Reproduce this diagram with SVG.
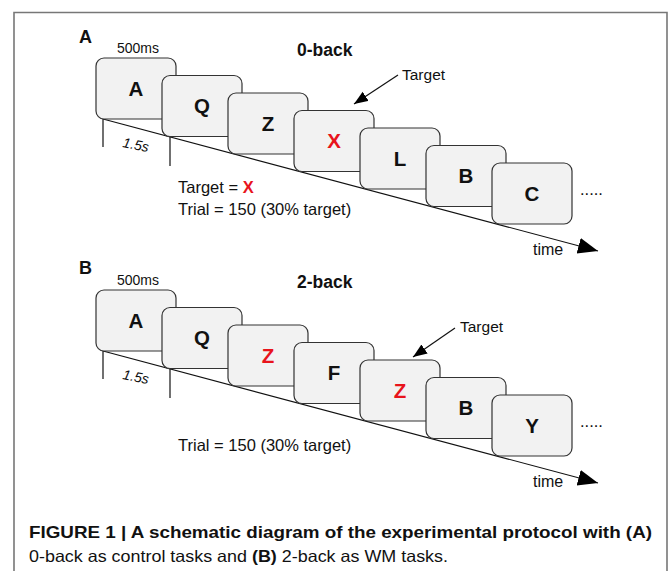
<svg xmlns="http://www.w3.org/2000/svg" width="669" height="571" viewBox="0 0 669 571">
  <defs>
    <style>
      .card rect { fill: #f2f2f2; stroke: #333; stroke-width: 1.2; }
      .card text { font-family: "Liberation Sans", Arial, sans-serif; font-weight: bold; font-size: 20.5px; fill: #111; text-anchor: middle; }
      .card text.red { fill: #e8141c; }
      .lbl { font-family: "Liberation Sans", Arial, sans-serif; fill: #111; }
      .conn line, .conn path { stroke: #111; stroke-width: 1.2; fill: none; }
    </style>
    <marker id="bigArrow" markerUnits="userSpaceOnUse" markerWidth="22" markerHeight="18" refX="20" refY="8" orient="auto">
      <path d="M0,0 L20,8 L0,16 Z" fill="#000"/>
    </marker>
    <marker id="smallArrow" markerUnits="userSpaceOnUse" markerWidth="16" markerHeight="12" refX="14" refY="5.5" orient="auto">
      <path d="M0,0 L14,5.5 L0,11 Z" fill="#000"/>
    </marker>
  </defs>
  <rect width="669" height="571" fill="#fff"/>
  <path d="M14,575 V12.5 H667 V575" fill="none" stroke="#777" stroke-width="1.6"/>

  <!-- connectors -->
  <g id="connectors" class="conn">
    <line x1="103" y1="119" x2="598" y2="251" marker-end="url(#bigArrow)"/>
    <line x1="103" y1="119" x2="103" y2="147"/>
    <line x1="170" y1="137" x2="170" y2="166"/>
    <line x1="398" y1="75" x2="354" y2="104" marker-end="url(#smallArrow)"/>

    <line x1="103" y1="351" x2="598" y2="483" marker-end="url(#bigArrow)"/>
    <line x1="103" y1="351" x2="103" y2="379"/>
    <line x1="170" y1="369" x2="170" y2="398"/>
    <line x1="455" y1="328" x2="413" y2="357" marker-end="url(#smallArrow)"/>
  </g>

  <!-- Panel A -->
  <g id="panelA">
    <text class="lbl" x="79" y="43" font-size="18" font-weight="bold">A</text>
    <text class="lbl" x="117" y="53" font-size="14">500ms</text>
    <text class="lbl" x="297" y="56" font-size="17.5" font-weight="bold">0-back</text>
    <text class="lbl" x="402" y="80" font-size="15.5">Target</text>
    <text class="lbl" x="122" y="147" font-size="14" font-style="italic" transform="rotate(11 122 147)">1.5s</text>
    <text class="lbl" x="178" y="193" font-size="16.5">Target = <tspan fill="#e8141c" font-weight="bold">X</tspan></text>
    <text class="lbl" x="178" y="215" font-size="16.5">Trial = 150 (30% target)</text>
    <text class="lbl" x="580" y="195" font-size="16.5">.....</text>
    <text class="lbl" x="533" y="255" font-size="16">time</text>
  </g>
  <g id="a1" class="card"><rect x="96" y="58" width="80" height="61" rx="8"/><text x="136" y="95.5">A</text></g>
  <g id="a2" class="card"><rect x="162" y="75.5" width="80" height="61" rx="8"/><text x="202" y="113">Q</text></g>
  <g id="a3" class="card"><rect x="228" y="93" width="80" height="61" rx="8"/><text x="268" y="130.5">Z</text></g>
  <g id="a4" class="card"><rect x="294" y="110.5" width="80" height="61" rx="8"/><text class="red" x="334" y="148">X</text></g>
  <g id="a5" class="card"><rect x="360" y="128" width="80" height="61" rx="8"/><text x="400" y="165.5">L</text></g>
  <g id="a6" class="card"><rect x="426" y="145.5" width="80" height="61" rx="8"/><text x="466" y="183">B</text></g>
  <g id="a7" class="card"><rect x="492" y="163" width="80" height="61" rx="8"/><text x="532" y="200.5">C</text></g>

  <!-- Panel B -->
  <g id="panelB">
    <text class="lbl" x="79" y="274" font-size="18" font-weight="bold">B</text>
    <text class="lbl" x="117" y="285" font-size="14">500ms</text>
    <text class="lbl" x="297" y="288" font-size="17.5" font-weight="bold">2-back</text>
    <text class="lbl" x="460" y="332" font-size="15.5">Target</text>
    <text class="lbl" x="122" y="379" font-size="14" font-style="italic" transform="rotate(11 122 379)">1.5s</text>
    <text class="lbl" x="178" y="451" font-size="16.5">Trial = 150 (30% target)</text>
    <text class="lbl" x="580" y="427" font-size="16.5">.....</text>
    <text class="lbl" x="533" y="487" font-size="16">time</text>
  </g>
  <g id="b1" class="card"><rect x="96" y="290" width="80" height="61" rx="8"/><text x="136" y="327.5">A</text></g>
  <g id="b2" class="card"><rect x="162" y="307.5" width="80" height="61" rx="8"/><text x="202" y="345">Q</text></g>
  <g id="b3" class="card"><rect x="228" y="325" width="80" height="61" rx="8"/><text class="red" x="268" y="362.5">Z</text></g>
  <g id="b4" class="card"><rect x="294" y="342.5" width="80" height="61" rx="8"/><text x="334" y="380">F</text></g>
  <g id="b5" class="card"><rect x="360" y="360" width="80" height="61" rx="8"/><text class="red" x="400" y="397.5">Z</text></g>
  <g id="b6" class="card"><rect x="426" y="377.5" width="80" height="61" rx="8"/><text x="466" y="415">B</text></g>
  <g id="b7" class="card"><rect x="492" y="395" width="80" height="61" rx="8"/><text x="532" y="432.5">Y</text></g>

  <!-- Caption -->
  <g id="caption">
    <text class="lbl" x="29" y="538" font-size="16.5" font-weight="bold" textLength="623" lengthAdjust="spacingAndGlyphs">FIGURE 1 | A schematic diagram of the experimental protocol with (A)</text>
    <text class="lbl" x="29" y="562" font-size="16.5" fill="#222" textLength="419" lengthAdjust="spacingAndGlyphs">0-back as control tasks and <tspan font-weight="bold">(B)</tspan> 2-back as WM tasks.</text>
  </g>
</svg>
